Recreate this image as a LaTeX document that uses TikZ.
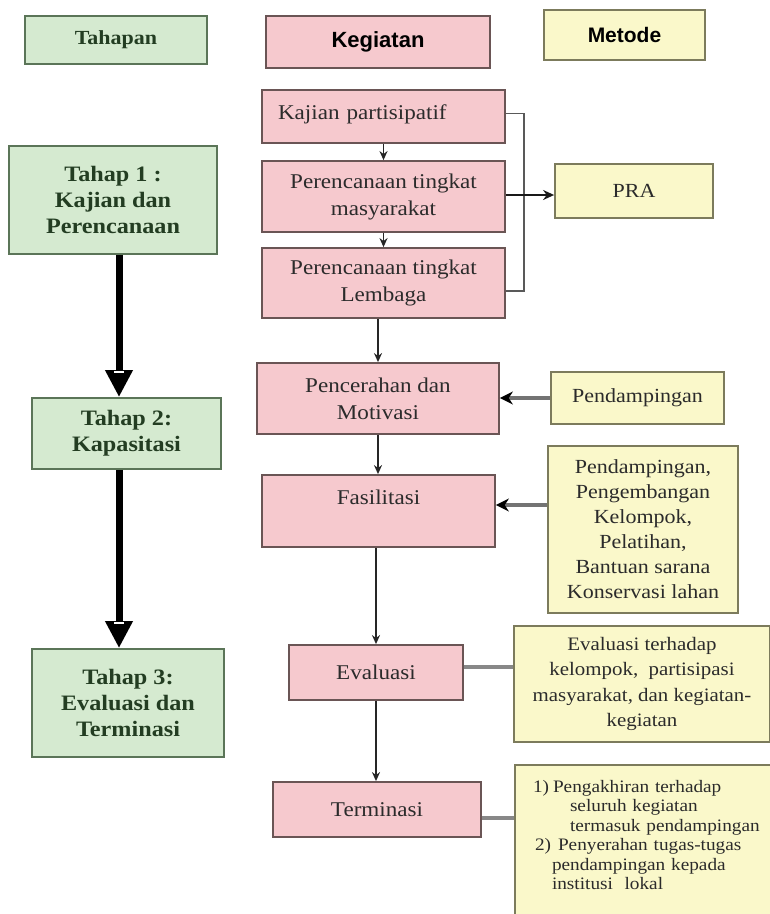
\documentclass[tikz,border=0pt]{standalone}
\usepackage{fontspec}
\setmainfont{Liberation Serif}[FakeStretch=1.1]
\newfontfamily\hsans{Liberation Sans}
\usetikzlibrary{arrows.meta}
\definecolor{gfill}{HTML}{D5EAD0}
\definecolor{gdraw}{HTML}{5B7558}
\definecolor{gtext}{HTML}{233D22}
\definecolor{pfill}{HTML}{F6C9CE}
\definecolor{pdraw}{HTML}{6A5555}
\definecolor{yfill}{HTML}{FAF8CA}
\definecolor{ydraw}{HTML}{7C7B5C}
\definecolor{btext}{HTML}{2B2B2B}
\definecolor{conngray}{HTML}{888888}
\begin{document}
\begin{tikzpicture}[x=1pt,y=-1pt,
  box/.style={draw, line width=1.8pt, inner sep=0pt, align=center, text=btext},
  gbox/.style={box, fill=gfill, draw=gdraw, text=gtext, font=\bfseries\fontsize{22}{26}\selectfont},
  pbox/.style={box, fill=pfill, draw=pdraw, font=\fontsize{21}{27}\selectfont},
  ybox/.style={box, fill=yfill, draw=ydraw, font=\fontsize{20}{25}\selectfont},
  midarr/.style={draw=black!85, line width=1.4pt, -{Stealth[length=9pt,width=8pt]}},
  praarr/.style={draw=black!90, line width=2pt, -{Stealth[length=11pt,width=10pt]}},
  brk/.style={draw=black!65, line width=1.3pt},
  grayarr/.style={draw=black!55, line width=4pt, -{Stealth[length=13pt,width=13pt,color=black]}},
  grayline/.style={draw=conngray, line width=3.5pt},
  thickarr/.style={draw=black, line width=7pt, -{Triangle[length=27pt,width=26pt]}}
]
\useasboundingbox (0,0) rectangle (770,914);
\fill[white] (0,0) rectangle (770,914);
\clip (0,0) rectangle (770,914);

% headers
\node[gbox, minimum width=182pt, minimum height=48pt, font=\bfseries\fontsize{20}{24}\selectfont] (tahapan) at (116,40) {Tahapan};
\node[pbox, minimum width=224pt, minimum height=52pt, text=black, font=\hsans\bfseries\fontsize{22}{26}\selectfont] (kegiatan) at (378,42) {Kegiatan};
\node[ybox, minimum width=161pt, minimum height=50pt, text=black, font=\hsans\bfseries\fontsize{21}{25}\selectfont] (metode) at (624.5,35) {Metode};

% Tahap column
\node[gbox, minimum width=208pt, minimum height=108pt] (t1) at (113,200) {Tahap 1 :\\Kajian dan\\Perencanaan};
\node[gbox, minimum width=189pt, minimum height=71pt] (t2) at (126.5,433.5) {Tahap 2:\\Kapasitasi};
\node[gbox, minimum width=192pt, minimum height=108pt] (t3) at (128,703) {Tahap 3:\\Evaluasi dan\\Terminasi};

% Kegiatan column
\node[pbox, minimum width=243pt, minimum height=53pt, text width=211pt, align=left] (kajian) at (383.5,116.5) {Kajian partisipatif\\[-18pt]\mbox{}};
\node[pbox, minimum width=243pt, minimum height=71pt] (permas) at (383.5,196.5) {Perencanaan tingkat\\masyarakat};
\node[pbox, minimum width=243pt, minimum height=70pt] (lembaga) at (383.5,283) {Perencanaan tingkat\\Lembaga};
\node[pbox, minimum width=242pt, minimum height=71pt] (pencer) at (378,398.5) {Pencerahan dan\\Motivasi};
\node[pbox, minimum width=233pt, minimum height=72pt] (fas) at (378.5,511) {Fasilitasi\\\mbox{}};
\node[pbox, minimum width=174pt, minimum height=55pt] (ev) at (376,672.5) {Evaluasi};
\node[pbox, minimum width=208pt, minimum height=55pt] (term) at (377,809.5) {Terminasi};

% Metode column
\node[ybox, minimum width=158pt, minimum height=54pt] (pra) at (634,191) {PRA};
\node[ybox, minimum width=173pt, minimum height=52pt] (pend) at (637.5,398) {Pendampingan};
\node[ybox, minimum width=190pt, minimum height=167pt] (m2) at (643,529.5) {Pendampingan,\\Pengembangan\\Kelompok,\\Pelatihan,\\Bantuan sarana\\Konservasi lahan};
\node[ybox, minimum width=256pt, minimum height=116pt, font=\fontsize{19}{25.5}\selectfont] (em) at (642,684) {Evaluasi terhadap\\kelompok,\ \ partisipasi\\masyarakat, dan kegiatan-\\kegiatan};
\node[ybox, minimum width=280pt, minimum height=166pt, text width=250pt, align=left, font=\fontsize{17.5}{19.5}\selectfont] (tm) at (655,848)
{\hspace*{3pt}1)\hspace{4pt}Pengakhiran terhadap\\
\hspace*{40pt}seluruh kegiatan\\
\hspace*{40pt}termasuk pendampingan\\
\hspace*{5pt}2)\hspace{7pt}Penyerahan tugas-tugas\\
\hspace*{22pt}pendampingan kepada\\
\hspace*{22pt}institusi\ \ lokal\\[6.5pt]
\mbox{}};

% middle arrows
\draw[midarr] (kajian.south) -- (permas.north);
\draw[midarr] (permas.south) -- (lembaga.north);
\draw[midarr] (lembaga.south -| pencer.north) -- (pencer.north);
\draw[midarr] (pencer.south) -- (pencer.south |- fas.north);
\draw[midarr] (ev.north |- fas.south) -- (ev.north);
\draw[midarr] (ev.south) -- (ev.south |- term.north);

% bracket to PRA
\draw[brk] ([yshift=3pt]kajian.east) -- ++(18,0) |- ([yshift=-8pt]lembaga.east);
\draw[praarr] ([yshift=1.5pt]permas.east) -- ([yshift=1.5pt]permas.east -| pra.west);

% method connectors
\draw[grayarr] (pend.west) -- (pend.west -| pencer.east);
\path ([yshift=6pt]fas.east) coordinate (fasr);
\draw[grayarr] (m2.west |- fasr) -- (fasr);
\path ([yshift=5.5pt]ev.east) coordinate (evr);
\draw[grayline] (evr) -- (evr -| em.west);
\path ([yshift=-8.5pt]term.east) coordinate (termr);
\draw[grayline] (termr) -- (termr -| tm.west);

% left thick arrows
\coordinate (lx) at (119,0);
\draw[thickarr] (t1.south -| lx) -- (t2.north -| lx);
\draw[thickarr] (t2.south -| lx) -- (t3.north -| lx);
\draw[white, line width=2.5pt] ([yshift=25pt]t2.north -| lx) ++(-5,0) -- ++(10,0);
\draw[white, line width=2.5pt] ([yshift=25pt]t3.north -| lx) ++(-5,0) -- ++(10,0);
\end{tikzpicture}
\end{document}
